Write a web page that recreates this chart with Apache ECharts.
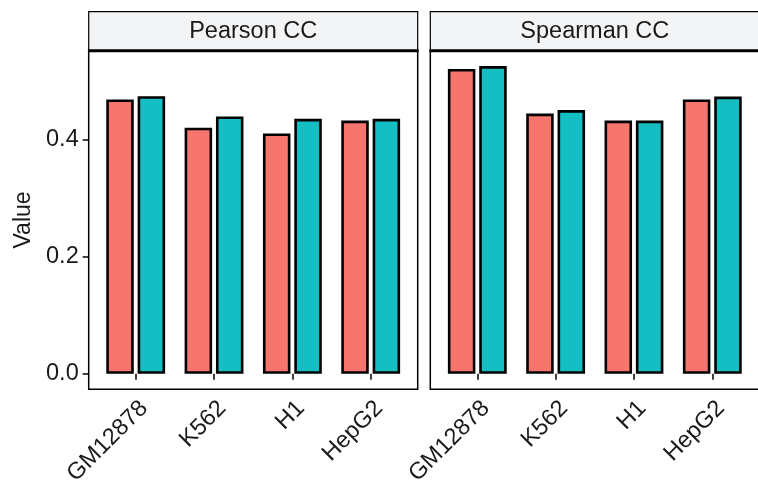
<!DOCTYPE html>
<html>
<head>
<meta charset="utf-8">
<script src="https://cdn.jsdelivr.net/npm/echarts@6/dist/echarts.min.js"></script>
<style>
  html, body { margin: 0; padding: 0; background: #fff; }
  #chart { width: 758px; height: 488px; }
</style>
</head>
<body>
<div id="chart"></div>
<script>
// ---- data ----
const categories = ['GM12878', 'K562', 'H1', 'HepG2'];
const facets = ['Pearson CC', 'Spearman CC'];
const seriesNames = ['Group A', 'Group B'];
const pearsonA = [0.468, 0.420, 0.410, 0.432];
const pearsonB = [0.4735, 0.439, 0.435, 0.435];
const spearmanA = [0.520, 0.444, 0.432, 0.468];
const spearmanB = [0.525, 0.450, 0.432, 0.473];
const yTicks = [0.0, 0.2, 0.4];

// ---- layout / style ----
const FONT = 'Liberation Sans, Arial, Helvetica, sans-serif';
const PANEL_X = [88.7, 430.3];
const PANEL_TOP = 50.7;
const PANEL_W = 329;
const PANEL_H = 338.5;
const STRIP_TOP = 11.7;
const COLORS = ['#F6766E', '#14BEC3'];

const facetData = [[pearsonA, pearsonB], [spearmanA, spearmanB]];
const allVals = [].concat(pearsonA, pearsonB, spearmanA, spearmanB);
const dataMax = Math.max(...allVals);
const yMin = -0.05 * dataMax;
const yMax = dataMax * 1.05;
const positions = categories.map((c, i) => i + 1);

const chart = echarts.init(document.getElementById('chart'), null, { renderer: 'canvas' });

const grids = facets.map((f, i) => ({
  left: PANEL_X[i], top: PANEL_TOP, width: PANEL_W, height: PANEL_H,
  show: true, borderColor: '#000', borderWidth: 1.5, backgroundColor: '#fff',
  containLabel: false, outerBoundsMode: 'none'
}));

const xAxes = facets.map((f, i) => ({
  type: 'value', gridIndex: i, min: 0.4, max: categories.length + 0.6,
  splitLine: { show: false },
  axisLine: { show: false },
  axisTick: { show: true, customValues: positions, length: 6, lineStyle: { color: '#000', width: 1.5 } },
  axisLabel: {
    show: true, customValues: positions,
    formatter: v => categories[Math.round(v) - 1] || '',
    rotate: 45, fontSize: 23.5, fontFamily: FONT, color: '#1a1a1a',
    margin: 7, verticalAlign: 'top', align: 'right', padding: [0, 0, 0, 0]
  }
}));

const yAxes = facets.map((f, i) => ({
  type: 'value', gridIndex: i, min: yMin, max: yMax,
  splitLine: { show: false },
  axisLine: { show: false },
  axisTick: { show: i === 0, customValues: yTicks, length: 6, lineStyle: { color: '#000', width: 1.5 } },
  axisLabel: {
    show: i === 0, customValues: yTicks,
    formatter: v => Number(v).toFixed(1),
    fontSize: 23.5, fontFamily: FONT, color: '#1a1a1a', margin: 10
  },
  name: i === 0 ? 'Value' : '',
  nameLocation: 'middle', nameGap: 54, nameRotate: 90,
  nameTextStyle: { fontSize: 23, fontFamily: FONT, color: '#1a1a1a' }
}));

const series = [];
facets.forEach((f, i) => {
  facetData[i].forEach((vals, k) => {
    series.push({
      type: 'bar', name: seriesNames[k], xAxisIndex: i, yAxisIndex: i,
      barWidth: 27.5, barGap: '14%',
      itemStyle: { color: COLORS[k], borderColor: '#000', borderWidth: 2.6 },
      data: vals.map((v, j) => [positions[j], v])
    });
  });
});

const graphics = [];
facets.forEach((f, i) => {
  graphics.push({
    type: 'rect', z: 100,
    shape: { x: PANEL_X[i], y: STRIP_TOP, width: PANEL_W, height: PANEL_TOP - STRIP_TOP },
    style: { fill: '#F3F4F6', stroke: '#000', lineWidth: 1.2 }
  });
  graphics.push({
    type: 'line', z: 101,
    shape: { x1: PANEL_X[i] - 0.75, y1: PANEL_TOP, x2: PANEL_X[i] + PANEL_W + 0.75, y2: PANEL_TOP },
    style: { stroke: '#000', lineWidth: 3 }
  });
  graphics.push({
    type: 'text', z: 102,
    x: PANEL_X[i] + PANEL_W / 2, y: (STRIP_TOP + PANEL_TOP) / 2,
    style: { text: f, fontSize: 23.5, fontFamily: FONT, fill: '#1a1a1a', align: 'center', verticalAlign: 'middle' }
  });
});

chart.setOption({
  animation: false,
  backgroundColor: '#fff',
  grid: grids,
  xAxis: xAxes,
  yAxis: yAxes,
  series: series,
  graphic: graphics
});
</script>
</body>
</html>
